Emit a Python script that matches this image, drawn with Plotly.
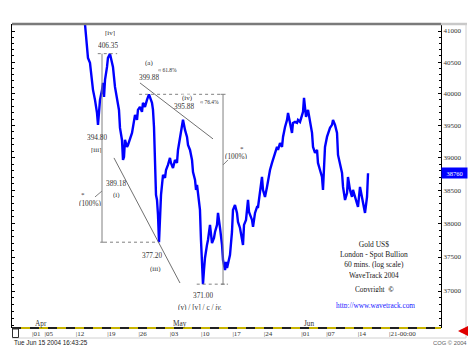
import numpy as np
import pandas as pd
import plotly.graph_objects as go

# ---------------- data ----------------
# trading-day index: 0 = Thu 01 Apr 2004 00:00, weekends skipped (fraction = time of day)
day = [8.46, 8.62, 8.78, 8.94, 9.26, 9.58, 9.74, 10.06, 10.38, 10.54,
       10.70, 10.86, 11.18, 11.34, 11.50, 11.66, 11.98, 12.13, 12.45, 12.77,
       12.93, 13.25, 13.57, 13.73, 13.89, 14.05, 14.37, 14.53, 14.69, 14.85,
       15.17, 15.33, 15.65, 15.97, 16.13, 16.45, 16.77, 16.92, 17.24, 17.56,
       17.72, 18.04, 18.36, 18.68, 19.16, 19.32, 19.48, 19.64, 19.80, 19.96,
       20.12, 20.28, 20.44, 20.60, 20.76, 20.92, 21.24, 21.40, 21.71, 22.03,
       22.19, 22.51, 22.83, 23.15, 23.31, 23.63, 23.95, 24.11, 24.43, 24.75,
       24.91, 25.23, 25.55, 25.71, 26.03, 26.19, 26.35, 26.50, 26.82, 26.98,
       27.14, 27.30, 27.46, 27.62, 27.94, 28.10, 28.42, 28.58, 28.74, 29.06,
       29.22, 29.54, 29.70, 30.02, 30.34, 30.50, 30.82, 30.98, 31.14, 31.61,
       31.93, 32.09, 32.41, 32.73, 32.89, 33.21, 33.53, 33.69, 33.85, 34.17,
       34.49, 34.65, 35.13, 35.29, 35.61, 35.93, 36.09, 36.40, 36.72, 36.88,
       37.20, 37.52, 37.68, 38.00, 38.32, 38.48, 38.80, 39.12, 39.28, 39.60,
       39.92, 40.08, 40.40, 40.72, 40.88, 41.19, 41.51, 41.67, 41.99, 42.31,
       42.47, 42.79, 43.11, 43.27, 43.43, 43.75, 44.07, 44.39, 44.71, 44.87,
       45.19, 45.51, 45.66, 45.98, 46.30, 46.46, 46.62, 46.78, 47.10, 47.26,
       47.58, 47.90, 48.06, 48.38, 48.70, 48.86, 49.18, 49.50, 49.66, 49.98,
       50.30, 50.45, 50.77, 51.09, 51.25, 51.57, 51.89, 52.05, 52.37, 52.69,
       52.85, 53.17, 53.49, 53.65]

# gold spot price, US cents (log scale)
price = [41114, 40905, 40696, 40567, 40487, 40216, 40058, 39900, 39695, 39508,
         39742, 39900, 40058, 40168, 39947, 40216, 40423, 40567, 40635, 40487,
         40423, 40105, 39900, 39790, 39742, 39461, 39274, 38965, 39011, 39274,
         39165, 39196, 39274, 39383, 39476, 39664, 39586, 39742, 39790, 39711,
         39853, 39790, 39900, 39988, 39853, 39742, 39476, 38659, 38430, 38354,
         38128, 37720, 38128, 38430, 38582, 38735, 38689, 38811, 38888, 38996,
         38919, 38842, 38965, 38919, 39119, 39305, 39461, 39588, 39430, 39321,
         39196, 39119, 38965, 38780, 38659, 38506, 38582, 38430, 38203, 37753,
         37426, 37100, 37308, 37486, 37679, 37753, 37978, 37873, 37708, 37783,
         37873, 37978, 38158, 37933, 37679, 37456, 37308, 37426, 37338, 37530,
         37873, 38203, 38279, 38158, 38023, 37933, 37783, 37679, 37978, 38053,
         38354, 38173, 38053, 37948, 38158, 38248, 38248, 38460, 38704, 38506,
         38400, 38552, 38659, 38811, 38919, 38965, 39073, 39165, 39119, 39227,
         39165, 39321, 39476, 39586, 39695, 39539, 39383, 39539, 39555, 39539,
         39586, 39555, 39664, 39711, 39931, 39632, 39742, 39539, 39383, 39165,
         39073, 39119, 38919, 38811, 38704, 38506, 38919, 39165, 39321, 39383,
         39461, 39508, 39586, 39508, 39383, 39042, 38888, 38765, 38552, 38354,
         38460, 38704, 38506, 38400, 38506, 38400, 38309, 38248, 38552, 38400,
         38309, 38158, 38400, 38760]

last_price = 38760

tick_dates = ["2004-04-01", "2004-04-05", "2004-04-12", "2004-04-19", "2004-04-26",
              "2004-05-03", "2004-05-10", "2004-05-17", "2004-05-24", "2004-06-01",
              "2004-06-07", "2004-06-14", "2004-06-21"]
tick_text = ["|01", "|05", "|12", "|19", "|26", "|03", "|10", "|17", "|24", "|01",
             "|07", "|14", "|21-00:00"]
month_dates = ["2004-04-01", "2004-05-03", "2004-06-01"]
month_text = ["Apr", "May", "Jun"]
y_ticks = [37000, 37500, 38000, 38500, 39000, 39500, 40000, 40500, 41000]

# wave levels (US cents) used by the measurement guides
lvl_iv_top = 40635     # [iv] 406.35
lvl_iii_low = 37720    # (iii) 377.20
lvl_a_top = 39988      # (a) 399.88
lvl_v_low = 37100      # (v) 371.00

# ---------------- helpers ----------------
bdays = pd.bdate_range("2004-04-01", periods=90)


def ts(d):
    i = int(np.floor(d))
    return (bdays[i] + pd.Timedelta(days=d - i)).strftime("%Y-%m-%d %H:%M")


W, H = 474, 361
L, R, T, B = 12, 441, 24, 328


def px(x):
    return (x - L) / (R - L)


def py(y):
    return (B - y) / (B - T)


SERIF = "Liberation Serif"
SANS = "Liberation Sans"
TXT = "#333333"

fig = go.Figure()
fig.add_trace(go.Scatter(
    x=[ts(d) for d in day], y=price, mode="lines",
    line=dict(color="#0000ff", width=2.4), hoverinfo="skip", showlegend=False))

# ---------------- guide lines (Elliott-wave measurements) ----------------
guides = [
    # d0, p0, d1, p1, dash, color
    (10.5, lvl_iv_top, 13.6, lvl_iv_top, "dot", "#808080"),
    (11.18, lvl_iv_top, 11.18, lvl_iii_low, "solid", "#808080"),
    (10.9, lvl_iii_low, 11.5, lvl_iii_low, "solid", "#808080"),
    (11.5, lvl_iii_low, 20.1, lvl_iii_low, "dot", "#808080"),
    (17.1, lvl_a_top, 30.2, lvl_a_top, "dot", "#808080"),
    (30.1, lvl_a_top, 30.9, lvl_a_top, "solid", "#808080"),
    (30.5, lvl_a_top, 30.5, lvl_v_low, "solid", "#808080"),
    (26.3, lvl_v_low, 31.3, lvl_v_low, "dot", "#808080"),
    (30.2, lvl_v_low, 30.8, lvl_v_low, "solid", "#808080"),
    (17.24, 40168, 28.90, 39290, "solid", "#707070"),
    (13.09, 38996, 23.63, 37117, "solid", "#707070"),
    (10.06, 38400, 11.18, 38490, "solid", "#808080"),
    (30.50, 38888, 31.29, 38965, "solid", "#808080"),
]
for d0, p0, d1, p1, dash, col in guides:
    fig.add_shape(type="line", xref="x", yref="y", x0=ts(d0), y0=p0, x1=ts(d1), y1=p1,
                  line=dict(color=col, width=1, dash=dash), layer="above")

# ---------------- frame decorations ----------------
deco = [
    # x0, y0, x1, y1 (pixels), color, width, dash
    (L, T, R, T, "#7a7a7a", 2.5, "solid"),
    (R, T, 467, T, "#c8c8c8", 2.5, "solid"),
    (466, T, 466, 338, "#d0d0d0", 1, "solid"),
    (L, 338, 466, 338, "#d0d0d0", 1, "solid"),
    (L, B, R, B, "#c8b400", 2, "solid"),
    (L, B, R, B, "#202020", 2, "dash"),
]
for x0, y0, x1, y1, col, w, dash in deco:
    fig.add_shape(type="line", xref="paper", yref="paper",
                  x0=px(x0), y0=py(y0), x1=px(x1), y1=py(y1),
                  line=dict(color=col, width=w, dash=dash), layer="above")
fig.add_shape(type="rect", xref="paper", yref="paper",
              x0=px(12.5), y0=py(329), x1=px(18.5), y1=py(337.5),
              line=dict(color="#303030", width=1), fillcolor="white")

# ---------------- text ----------------
labels = [
    # text, x px, y px, size, font, color
    ("[iv]", 110, 33, 7, SERIF, TXT),
    ("406.35", 108, 45, 7.3, SERIF, TXT),
    ("(a)", 149, 63, 7, SERIF, TXT),
    ("≈ 61.8%", 167, 69, 5.5, SERIF, TXT),
    ("399.88", 149, 77, 7.3, SERIF, TXT),
    ("395.88", 184, 106, 7.3, SERIF, TXT),
    ("≈ 76.4%", 209, 101, 5.5, SERIF, TXT),
    ("394.80", 97, 137, 7.3, SERIF, TXT),
    ("[iii]", 96, 150, 7, SERIF, TXT),
    ("389.18", 116, 183, 7.3, SERIF, TXT),
    ("(i)", 116, 195, 7, SERIF, TXT),
    ("*", 83, 195, 7, SERIF, TXT),
    ("(100%)", 90, 203, 7.3, SERIF, TXT),
    ("*", 242, 149, 7, SERIF, TXT),
    ("(100%)", 236, 156, 7.3, SERIF, TXT),
    ("377.20", 152, 255, 7.3, SERIF, TXT),
    ("(iii)", 155, 269, 7, SERIF, TXT),
    ("371.00", 203, 295, 7.3, SERIF, TXT),
    ("(v) / [v] / <u>c</u> / <i>iv.</i>", 200, 307, 7.3, SERIF, TXT),
    ("Gold US$<br>London - Spot Bullion<br>60 mins. (log scale)", 374, 254, 7.5, SERIF, "#202020"),
    ("WaveTrack 2004", 374, 275, 7.3, SERIF, "#202020"),
    ("Copyright  <b>©</b>", 374, 289, 7.3, SERIF, "#202020"),
    ("<u>http://www.wavetrack.com</u>", 375, 305, 7.3, SERIF, "#2020ff"),
    ("CQG © 2004", 450, 342, 5.8, SANS, "#606060"),
]
for text, x, y, s, f, c in labels:
    nlines = text.count("<br>") + 1
    fig.add_annotation(text=text, xref="paper", yref="paper", x=px(x), y=py(y),
                       showarrow=False, xanchor="center", yanchor="middle", align="center",
                       borderpad=0,
                       height=(int(round(s)) - 1) if nlines == 1 else None,
                       font=dict(family=f, size=s, color=c))

fig.add_annotation(text="(iv)", xref="paper", yref="paper", x=px(187), y=py(94),
                   showarrow=False, bgcolor="white", borderpad=0, height=6,
                   font=dict(family=SERIF, size=7, color=TXT))
fig.add_annotation(text="Tue Jun 15 2004 16:43:25", xref="paper", yref="paper",
                   x=px(12), y=py(342), xanchor="left", yanchor="middle", showarrow=False,
                   font=dict(family=SANS, size=6.3, color="#202020"))

for md, mt in zip(month_dates, month_text):
    fig.add_annotation(text=mt, xref="x", yref="paper", x=md, y=py(323),
                       xanchor="left", yanchor="middle", showarrow=False, xshift=1,
                       font=dict(family=SERIF, size=7.3, color=TXT))

# last price marker
fig.add_annotation(text=f"{last_price}", xref="paper", yref="y", x=1.0,
                   y=np.log10(last_price), xanchor="left", yanchor="middle",
                   showarrow=False, bgcolor="#0000ff", width=23, height=8, borderpad=1,
                   font=dict(family=SERIF, size=6.5, color="white"))
# red arrow
fig.add_annotation(text="", xref="paper", yref="paper", x=px(458), y=py(331),
                   ax=9, ay=0, showarrow=True, arrowhead=2, arrowsize=0.8,
                   arrowwidth=2.5, arrowcolor="#e00000")

fig.update_layout(
    width=W, height=H,
    margin=dict(l=L, r=W - R, t=T, b=H - B),
    paper_bgcolor="white", plot_bgcolor="white",
    showlegend=False,
    xaxis=dict(
        type="date",
        range=["2004-03-26 19:26", "2004-07-01 07:12"],
        rangebreaks=[dict(bounds=["sat", "mon"])],
        tickmode="array", tickvals=tick_dates, ticktext=tick_text,
        ticklabelposition="outside right", tickangle=0,
        ticks="", showgrid=False, zeroline=False, showline=False,
        tickfont=dict(family=SERIF, size=7, color=TXT),
        fixedrange=True,
    ),
    yaxis=dict(
        type="log", side="right",
        range=[4.561858, 4.613984],
        tickmode="array", tickvals=y_ticks, ticktext=[str(v) for v in y_ticks],
        ticks="inside", ticklen=3, tickcolor="#000000",
        showline=True, linecolor="#000000", linewidth=1, mirror="ticks",
        minor=dict(tickmode="array", tickvals=list(range(36500, 41200, 100)),
                   ticks="inside", ticklen=2, tickcolor="#000000"),
        showgrid=False, zeroline=False,
        tickfont=dict(family=SERIF, size=7, color=TXT),
        fixedrange=True,
    ),
)

fig.write_html(
    "out.html",
    config={"displayModeBar": False, "staticPlot": True},
    post_script="document.body.style.margin='0';document.body.style.overflow='hidden';",
)
